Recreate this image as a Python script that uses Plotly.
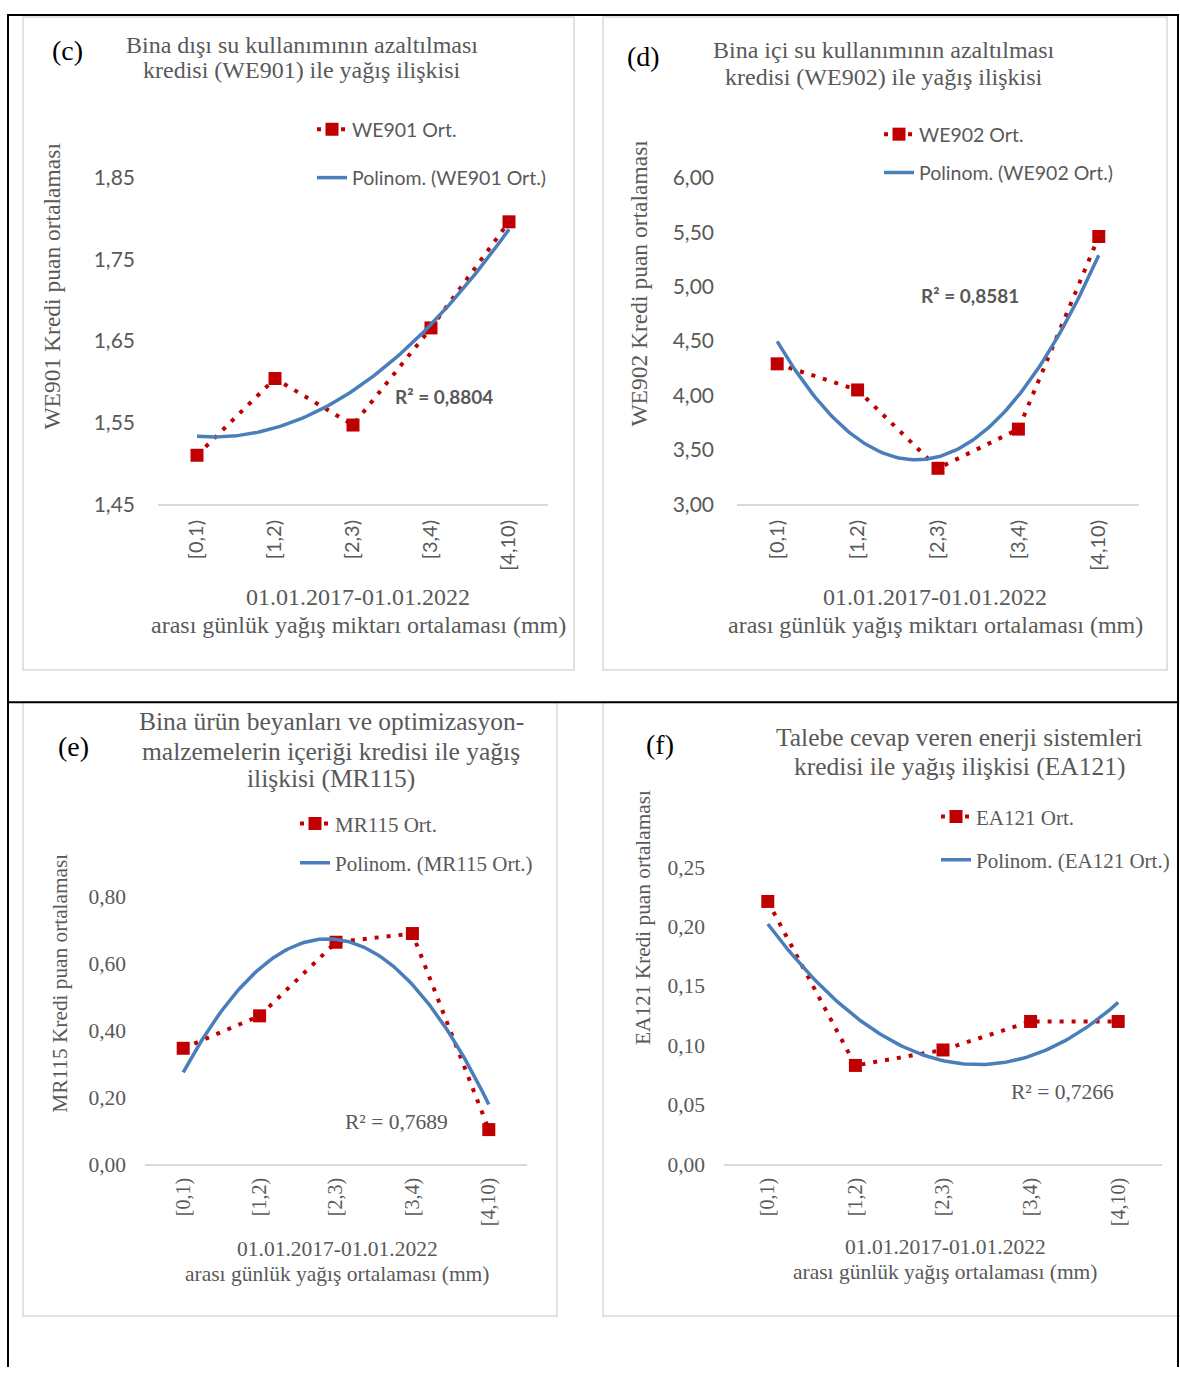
import numpy as np
import plotly.graph_objects as go

# ---------------- data ----------------
categories = ["[0,1)", "[1,2)", "[2,3)", "[3,4)", "[4,10)"]
x_positions = [1, 2, 3, 4, 5]

we901_ort = [1.510, 1.604, 1.547, 1.666, 1.796]
we902_ort = [4.29, 4.05, 3.33, 3.69, 5.46]
mr115_ort = [0.346, 0.443, 0.663, 0.689, 0.103]
ea121_ort = [0.221, 0.083, 0.096, 0.120, 0.120]

we901_ticks = [1.45, 1.55, 1.65, 1.75, 1.85]
we902_ticks = [3.00, 3.50, 4.00, 4.50, 5.00, 5.50, 6.00]
mr115_ticks = [0.00, 0.20, 0.40, 0.60, 0.80]
ea121_ticks = [0.00, 0.05, 0.10, 0.15, 0.20, 0.25]

series_names = ["WE901 Ort.", "WE902 Ort.", "MR115 Ort.", "EA121 Ort."]
trend_names = ["Polinom. (WE901 Ort.)", "Polinom. (WE902 Ort.)",
               "Polinom. (MR115 Ort.)", "Polinom. (EA121 Ort.)"]
r2_labels = ["R² = 0,8804", "R² = 0,8581", "R² = 0,7689", "R² = 0,7266"]
panel_letters = ["(c)", "(d)", "(e)", "(f)"]
titles = [
    ["Bina dışı su kullanımının azaltılması", "kredisi (WE901) ile yağış ilişkisi"],
    ["Bina içi su kullanımının azaltılması", "kredisi (WE902) ile yağış ilişkisi"],
    ["Bina ürün beyanları ve optimizasyon-", "malzemelerin içeriği kredisi ile yağış", "ilişkisi (MR115)"],
    ["Talebe cevap veren enerji sistemleri", "kredisi ile yağış ilişkisi (EA121)"],
]
y_titles = ["WE901 Kredi puan ortalaması", "WE902 Kredi puan ortalaması",
            "MR115 Kredi puan ortalaması", "EA121 Kredi puan ortalaması"]
x_titles = [
    ["01.01.2017-01.01.2022", "arası günlük yağış miktarı ortalaması (mm)"],
    ["01.01.2017-01.01.2022", "arası günlük yağış miktarı ortalaması (mm)"],
    ["01.01.2017-01.01.2022", "arası günlük yağış ortalaması (mm)"],
    ["01.01.2017-01.01.2022", "arası günlük yağış ortalaması (mm)"],
]
series_values = [we901_ort, we902_ort, mr115_ort, ea121_ort]
series_ticks = [we901_ticks, we902_ticks, mr115_ticks, ea121_ticks]

# ---------------- layout geometry (pixels) ----------------
W, H = 1180, 1380
def px(x):
    return x / W
def py(y):
    return 1 - y / H

SANS = "Lato, 'Open Sans', sans-serif"
SERIF = "'Liberation Serif', 'Times New Roman', serif"
GREY = "#595959"
RED = "#C00000"
BLUE = "#4A7EBB"

panels = [
    dict(xd=(158, 548), yd=(167, 500), box=(23, 3, 574, 669), tickfont=SANS, ticksize=21,
         xstand=6, ystand=22,
         legfont=SANS, legsize=19.5, letter=(67, 37), title_x=302, title_y=[32, 57], title_size=24,
         ytitle=(52, 278), ytsize=23.5, xtitle_x=358, xtitle_y=[595, 623], xtsize=24,
         r2=(444, 390), r2font=SANS, r2bold=True, r2size=19,
         leg_x=312, leg_y=98, leg_gap=20),
    dict(xd=(737, 1139), yd=(167, 500), box=(603, 3, 1167, 669), tickfont=SANS, ticksize=21,
         xstand=6, ystand=22,
         legfont=SANS, legsize=19.5, letter=(643, 43), title_x=884, title_y=[37, 64], title_size=24,
         ytitle=(639, 275), ytsize=23.5, xtitle_x=935, xtitle_y=[595, 623], xtsize=24,
         r2=(970, 287), r2font=SANS, r2bold=True, r2size=19,
         leg_x=879, leg_y=103, leg_gap=10),
    dict(xd=(145, 527), yd=(900, 1173), box=(23, 702, 557, 1328), tickfont=SERIF, ticksize=21.5,
         xstand=4, ystand=18,
         legfont=SERIF, legsize=21, letter=(73, 747), title_x=331, title_y=[722, 752, 780], title_size=25.5,
         ytitle=(60, 989), ytsize=21.3, xtitle_x=337, xtitle_y=[1260, 1285], xtsize=21.5,
         r2=(396, 1130), r2font=SERIF, r2bold=False, r2size=21.5,
         leg_x=295, leg_y=805, leg_gap=9),
    dict(xd=(724, 1162), yd=(870, 1173), box=(603, 702, 1182, 1328), tickfont=SERIF, ticksize=21.5,
         xstand=4, ystand=18,
         legfont=SERIF, legsize=21, letter=(660, 745), title_x=959, title_y=[738, 768], title_size=25.5,
         ytitle=(643, 922), ytsize=21.3, xtitle_x=945, xtitle_y=[1258, 1283], xtsize=21.5,
         r2=(1062, 1100), r2font=SERIF, r2bold=False, r2size=21.5,
         leg_x=936, leg_y=798, leg_gap=13),
]

fig = go.Figure()
shapes = []
annotations = []
layout_axes = {}

for i, p in enumerate(panels):
    n = i + 1
    xa = "x" if n == 1 else f"x{n}"
    ya = "y" if n == 1 else f"y{n}"
    xkey = "xaxis" if n == 1 else f"xaxis{n}"
    ykey = "yaxis" if n == 1 else f"yaxis{n}"
    legkey = "legend" if n == 1 else f"legend{n}"

    vals = series_values[i]
    ticks = series_ticks[i]

    # chart area box
    bx0, by0, bx1, by1 = p["box"]
    shapes.append(dict(type="rect", xref="paper", yref="paper", layer="below",
                       x0=px(bx0), x1=px(bx1), y0=py(by1), y1=py(by0),
                       line=dict(color="#D9D9D9", width=1.5), fillcolor="white"))

    # data series
    fig.add_trace(go.Scatter(
        x=x_positions, y=vals, name=series_names[i], mode="lines+markers",
        xaxis=xa, yaxis=ya, legend=legkey, legendgroup=f"s{n}",
        line=dict(color=RED, width=4, dash="4px,8px"),
        marker=dict(symbol="square", size=13, color=RED),
        cliponaxis=False, hoverinfo="skip"))

    # polynomial (order 2) trendline computed from the data
    coef = np.polyfit(x_positions, vals, 2)
    xs = np.linspace(1, 5, 120)
    fig.add_trace(go.Scatter(
        x=xs, y=np.polyval(coef, xs), name=trend_names[i], mode="lines",
        xaxis=xa, yaxis=ya, legend=legkey, legendgroup=f"t{n}",
        line=dict(color=BLUE, width=3.5), cliponaxis=False, hoverinfo="skip"))

    layout_axes[xkey] = dict(
        domain=[px(p["xd"][0]), px(p["xd"][1])], anchor=ya, range=[0.5, 5.5],
        tickmode="array", tickvals=x_positions, ticktext=categories, tickangle=-90,
        showgrid=False, zeroline=False, showline=True, linecolor="#D9D9D9", linewidth=1.5,
        ticks="", ticklabelstandoff=p["xstand"], fixedrange=True,
        tickfont=dict(family=p["tickfont"], size=20, color=GREY))
    layout_axes[ykey] = dict(
        domain=[py(p["yd"][1]), py(p["yd"][0])], anchor=xa,
        range=[ticks[0], ticks[-1]], tickmode="array", tickvals=ticks, tickformat=".2f",
        showgrid=False, zeroline=False, showline=False, ticks="", ticklabelstandoff=p["ystand"],
        fixedrange=True, tickfont=dict(family=p["tickfont"], size=p["ticksize"], color=GREY))

    layout_axes[legkey] = dict(
        x=px(p["leg_x"]), y=py(p["leg_y"]), xanchor="left", yanchor="top",
        xref="paper", yref="paper", bgcolor="rgba(0,0,0,0)", traceorder="grouped",
        tracegroupgap=p["leg_gap"], itemclick=False, itemdoubleclick=False,
        font=dict(family=p["legfont"], size=p["legsize"], color=GREY))

    # panel letter
    annotations.append(dict(text=panel_letters[i], x=px(p["letter"][0]), y=py(p["letter"][1]),
                            xref="paper", yref="paper", showarrow=False, xanchor="center",
                            yanchor="middle", font=dict(family=SERIF, size=28, color="black")))
    # chart title lines
    for line, ty in zip(titles[i], p["title_y"]):
        annotations.append(dict(text=line, x=px(p["title_x"]), y=py(ty), xref="paper", yref="paper",
                                showarrow=False, xanchor="center", yanchor="middle",
                                font=dict(family=SERIF, size=p["title_size"], color=GREY)))
    # x axis title lines
    for line, ty in zip(x_titles[i], p["xtitle_y"]):
        annotations.append(dict(text=line, x=px(p["xtitle_x"]), y=py(ty), xref="paper", yref="paper",
                                showarrow=False, xanchor="center", yanchor="middle",
                                font=dict(family=SERIF, size=p["xtsize"], color=GREY)))
    # y axis title
    annotations.append(dict(text=y_titles[i], x=px(p["ytitle"][0]), y=py(p["ytitle"][1]),
                            xref="paper", yref="paper", showarrow=False, textangle=-90,
                            xanchor="center", yanchor="middle",
                            font=dict(family=SERIF, size=p["ytsize"], color=GREY)))
    # R² label
    r2text = f"<b>{r2_labels[i]}</b>" if p["r2bold"] else r2_labels[i]
    annotations.append(dict(text=r2text, x=px(p["r2"][0]), y=py(p["r2"][1]),
                            xref="paper", yref="paper", showarrow=False,
                            xanchor="center", yanchor="middle",
                            font=dict(family=p["r2font"], size=p["r2size"], color=GREY)))

# black table frame lines
for (x0, y0, x1, y1) in [(8, 0, 8, H), (1178, 0, 1178, H), (8, 1, 1178, 1), (8, 702, 1178, 702)]:
    shapes.append(dict(type="line", xref="paper", yref="paper", layer="below",
                       x0=px(x0), x1=px(x1), y0=py(y0), y1=py(y1),
                       line=dict(color="black", width=2)))

fig.update_layout(
    width=W, height=H, margin=dict(l=0, r=0, t=0, b=0),
    paper_bgcolor="white", plot_bgcolor="rgba(0,0,0,0)",
    separators=",.", showlegend=True, shapes=shapes, annotations=annotations,
    **layout_axes)

fig.write_html("out.html", config={"displayModeBar": False},
               post_script="document.body.style.margin='0';")
